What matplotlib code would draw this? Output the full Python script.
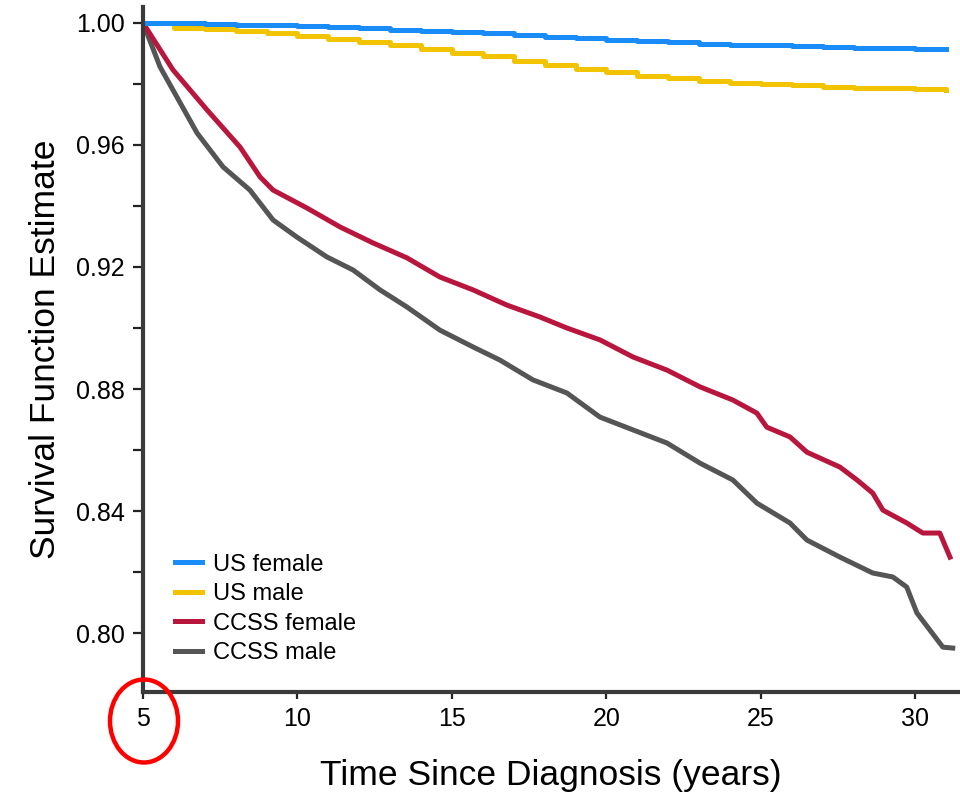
import matplotlib
matplotlib.use("Agg")
import matplotlib.pyplot as plt
from matplotlib.patches import Ellipse
from matplotlib.ticker import MultipleLocator

plt.rcParams['font.family'] = ['Liberation Sans', 'DejaVu Sans']

# US population curves (yearly steps)
us_years = [5, 6, 7, 8, 9, 10, 11, 12, 13, 14, 15, 16, 17, 18, 19, 20,
            21, 22, 23, 24, 25, 26, 27, 28, 29, 30, 31]
us_female = [1.0000, 0.9998, 0.9996, 0.9994, 0.9992, 0.9989, 0.9986, 0.9982,
             0.9978, 0.9974, 0.9970, 0.9966, 0.9961, 0.9955, 0.9950, 0.9944,
             0.9940, 0.9936, 0.9932, 0.9929, 0.9926, 0.9923, 0.9921, 0.9919,
             0.9917, 0.9915, 0.9913]
us_male = [1.0000, 0.9984, 0.9979, 0.9973, 0.9967, 0.9958, 0.9948, 0.9937,
           0.9926, 0.9914, 0.9902, 0.9890, 0.9876, 0.9863, 0.9850, 0.9838,
           0.9827, 0.9818, 0.9810, 0.9804, 0.9799, 0.9795, 0.9791, 0.9788,
           0.9785, 0.9783, 0.9781]

# CCSS survivors
ccss_f_t = [5.0, 5.97, 7.07, 8.14, 8.79, 9.21, 10.31, 11.38, 12.44, 13.54,
            14.61, 15.68, 16.78, 17.85, 18.72, 19.79, 20.86, 21.96, 23.03,
            24.09, 24.87, 25.19, 25.94, 26.49, 27.56, 28.11, 28.62, 28.95,
            29.72, 30.24, 30.79, 31.12]
ccss_female = [1.0, 0.9846, 0.9715, 0.9593, 0.9495, 0.9452, 0.9393, 0.9331,
               0.9279, 0.9230, 0.9167, 0.9125, 0.9075, 0.9036, 0.9000, 0.8961,
               0.8905, 0.8862, 0.8807, 0.8764, 0.8721, 0.8675, 0.8643, 0.8593,
               0.8544, 0.8502, 0.8459, 0.8403, 0.8361, 0.8328, 0.8328, 0.8249]
ccss_m_t = [5.0, 5.55, 5.97, 6.75, 7.59, 8.46, 9.21, 9.98, 10.95, 11.80,
            12.67, 13.54, 14.61, 15.68, 16.55, 17.62, 18.72, 19.79, 20.86,
            21.96, 23.03, 24.09, 24.87, 25.94, 26.49, 27.56, 28.62, 29.27,
            29.72, 30.05, 30.47, 30.89, 31.21]
ccss_male = [1.0, 0.9856, 0.9780, 0.9639, 0.9528, 0.9452, 0.9354, 0.9298,
             0.9233, 0.9190, 0.9125, 0.9069, 0.8993, 0.8938, 0.8895, 0.8830,
             0.8787, 0.8708, 0.8666, 0.8623, 0.8557, 0.8502, 0.8426, 0.8361,
             0.8305, 0.8249, 0.8197, 0.8184, 0.8151, 0.8066, 0.8010, 0.7954,
             0.7951]

fig = plt.figure(figsize=(9.6, 8.02), dpi=100)
ax = fig.add_axes([143/960, 110/802, 815/960, 685/802])

lw = 3.6
l_cm, = ax.plot(ccss_m_t, ccss_male, color='#555555', lw=lw, label='CCSS male')
l_cf, = ax.plot(ccss_f_t, ccss_female, color='#B8163C', lw=lw, label='CCSS female')
l_um, = ax.plot(us_years, us_male, color='#F2C400', lw=lw, drawstyle='steps-post', label='US male')
l_uf, = ax.plot(us_years, us_female, color='#1A8CF7', lw=lw, drawstyle='steps-post', label='US female')

ax.set_xlim(5, 31.38)
ax.set_ylim(0.7807, 1.0052)
ax.set_xticks([5, 10, 15, 20, 25, 30])
ax.yaxis.set_major_locator(MultipleLocator(0.04))
ax.yaxis.set_minor_locator(MultipleLocator(0.02))
ax.yaxis.set_major_formatter(matplotlib.ticker.FormatStrFormatter('%.2f'))

for s in ['top', 'right']:
    ax.spines[s].set_visible(False)
for s in ['left', 'bottom']:
    ax.spines[s].set_color('#3a3a3a')
    ax.spines[s].set_linewidth(3)

ax.tick_params(axis='y', which='both', direction='out', length=7, width=1.6,
               color='#222222', labelsize=18, pad=6)
ax.tick_params(axis='x', direction='out', length=5, width=1.6,
               color='#222222', labelsize=18, pad=6)

ax.set_ylabel('Survival Function Estimate', fontsize=25.5, labelpad=10)
ax.set_xlabel('Time Since Diagnosis (years)', fontsize=25.5, labelpad=20)

ax.legend(handles=[l_uf, l_um, l_cf, l_cm], loc='upper left',
          bbox_to_anchor=(0.039, 0.202), frameon=False, fontsize=17,
          borderpad=0, borderaxespad=0, handlelength=1.15,
          handletextpad=0.45, labelspacing=0.32)

# red circle around the "5" tick label
fig.add_artist(Ellipse((144/960, 1 - 721/802), 68/960, 83/802,
                       transform=fig.transFigure, fill=False,
                       edgecolor='#FF0000', lw=3.2, clip_on=False))

fig.savefig('out.png', dpi=100)
